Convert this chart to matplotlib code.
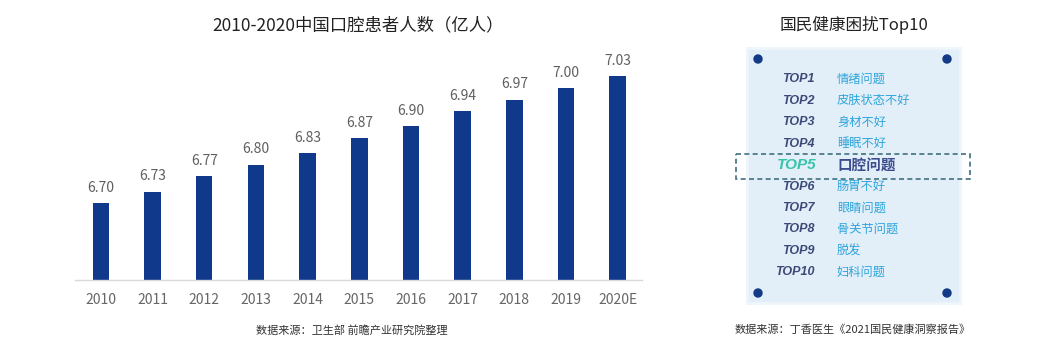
import matplotlib
matplotlib.use('Agg')
import matplotlib.pyplot as plt
from matplotlib.patches import Rectangle, Circle

plt.rcParams['font.family'] = ['Noto Sans CJK SC', 'DejaVu Sans']

# 左图数据
years = ['2010', '2011', '2012', '2013', '2014', '2015', '2016', '2017', '2018', '2019', '2020E']
patients = [6.70, 6.73, 6.77, 6.80, 6.83, 6.87, 6.90, 6.94, 6.97, 7.00, 7.03]

# 右图数据
ranks = ['TOP1', 'TOP2', 'TOP3', 'TOP4', 'TOP5', 'TOP6', 'TOP7', 'TOP8', 'TOP9', 'TOP10']
problems = ['情绪问题', '皮肤状态不好', '身材不好', '睡眠不好', '口腔问题',
            '肠胃不好', '眼睛问题', '骨关节问题', '脱发', '妇科问题']
destaque = 4  # TOP5 口腔问题

W, H = 1060, 358
fig = plt.figure(figsize=(W / 100, H / 100), dpi=100)

# 柱状图
ax = fig.add_axes([75 / W, 1 - 280 / H, 567 / W, 240 / H])
x = list(range(len(years)))
ax.bar(x, patients, width=0.32, color='#10398c', zorder=2)
for xi, v in zip(x, patients):
    ax.annotate(f'{v:.2f}', (xi, v), xytext=(0, 6), textcoords='offset points',
                ha='center', va='bottom', fontsize=10, color='#5f5f5f')
ax.set_xlim(-0.5, 10.47)
ax.set_ylim(6.5, 6.5 + 240 / 384)
ax.set_xticks(x)
ax.set_xticklabels(years, fontsize=10, color='#666666')
ax.tick_params(axis='x', length=0, pad=9)
ax.set_yticks([])
for s in ['top', 'left', 'right']:
    ax.spines[s].set_visible(False)
ax.spines['bottom'].set_color('#d9d9d9')
ax.spines['bottom'].set_linewidth(1.0)

fig.text(358 / W, 1 - 25 / H, '2010-2020中国口腔患者人数（亿人）', ha='center', va='center',
         fontsize=12.5, color='#222222')
fig.text(352 / W, 1 - 330 / H, '数据来源：卫生部 前瞻产业研究院整理', ha='center', va='center',
         fontsize=8, color='#333333')

# 右侧面板 (像素坐标)
pa = fig.add_axes([0, 0, 1, 1])
pa.set_xlim(0, W)
pa.set_ylim(H, 0)
pa.axis('off')
pa.patch.set_alpha(0)

pa.add_patch(Rectangle((747, 48), 213, 255, facecolor='#e2eef8', edgecolor='#eef5fb', lw=2))
for cx, cy in [(758, 59), (947, 59), (758, 293), (947, 293)]:
    pa.add_patch(Circle((cx, cy), 4, color='#123a86'))

row_y0, row_dy = 79.5, 21.4
for i, (r, p) in enumerate(zip(ranks, problems)):
    y = row_y0 + i * row_dy
    if i == destaque:
        pa.text(817, y, r, ha='right', va='center', fontsize=11, style='italic',
                fontweight='bold', color='#35c4aa', family=['Liberation Sans'])
        pa.text(837, y, p, ha='left', va='center', fontsize=10.5, fontweight='bold',
                color='#3c4b8c')
    else:
        pa.text(815, y, r, ha='right', va='center', fontsize=9, style='italic',
                fontweight='bold', color='#3d4a78', family=['Liberation Sans'])
        pa.text(837, y, p, ha='left', va='center', fontsize=8.8, color='#2ea5dc')

pa.add_patch(Rectangle((736, 154), 234, 25, fill=False, edgecolor='#41707f',
                       lw=1.2, linestyle=(0, (3, 2))))

fig.text(854 / W, 1 - 25 / H, '国民健康困扰Top10', ha='center', va='center',
         fontsize=12, color='#222222')
fig.text(853 / W, 1 - 330 / H, '数据来源：丁香医生《2021国民健康洞察报告》', ha='center',
         va='center', fontsize=8, color='#333333')

fig.savefig('out.png', dpi=100)
